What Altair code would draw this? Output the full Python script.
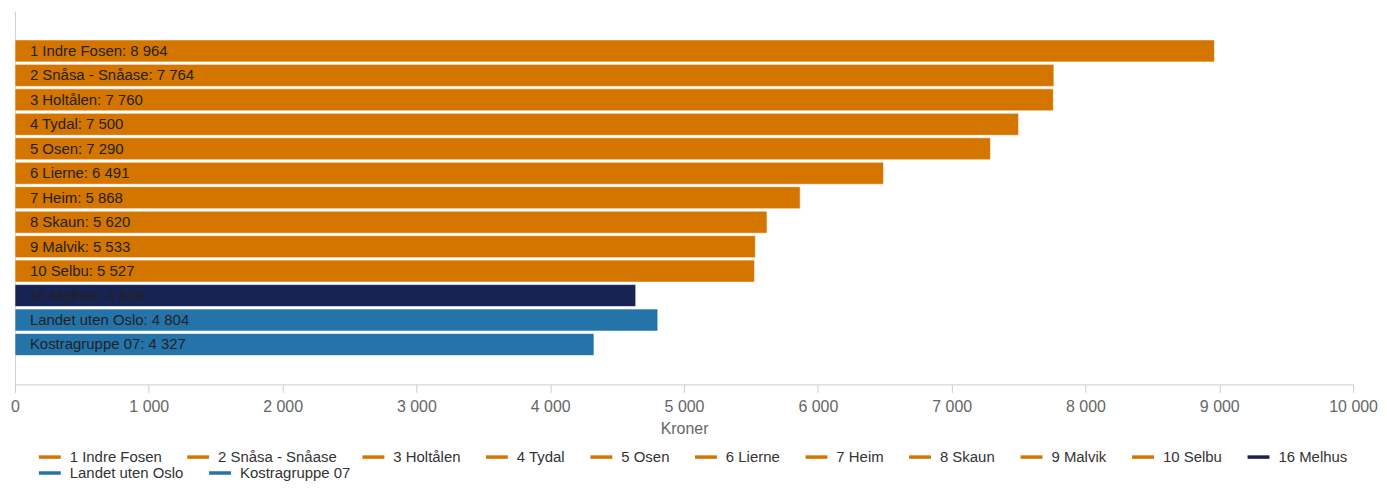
import altair as alt
import pandas as pd

names = ["1 Indre Fosen", "2 Snåsa - Snåase", "3 Holtålen", "4 Tydal", "5 Osen",
         "6 Lierne", "7 Heim", "8 Skaun", "9 Malvik", "10 Selbu", "16 Melhus",
         "Landet uten Oslo", "Kostragruppe 07"]
values = [8964, 7764, 7760, 7500, 7290, 6491, 5868, 5620, 5533, 5527, 4639, 4804, 4327]
colors = ["#d47500"] * 10 + ["#172352", "#2474a9", "#2474a9"]
x_ticks = [0, 1000, 2000, 3000, 4000, 5000, 6000, 7000, 8000, 9000, 10000]

df = pd.DataFrame({
    "name": names,
    "value": values,
    "label": [f"{n}: {v:,}".replace(",", " ") for n, v in zip(names, values)],
})
df_a = df.iloc[:11]
df_b = df.iloc[11:]

FONT = "Liberation Sans"
y_domain = ["_top"] + names + ["_bottom"]
y_scale = alt.Scale(domain=y_domain, paddingInner=0.1, paddingOuter=0.18)
x_scale = alt.Scale(domain=[0, 10000], nice=False)

x_axis = alt.Axis(values=x_ticks, title="Kroner", grid=False, labelFlush=False,
                  labelExpr="replace(format(datum.value, ','), ',', ' ')",
                  labelFont=FONT, labelFontSize=16, labelColor="#666666",
                  labelPadding=6, tickSize=8, tickColor="#cccccc",
                  domainColor="#cccccc", titleFont=FONT, titleFontSize=16,
                  titleFontWeight="normal", titleColor="#666666", titlePadding=6)
y_axis = alt.Axis(labels=False, ticks=False, title=None, domainColor="#d0d0d0",
                  domainWidth=1, grid=False)

SYMBOL = "M-1,-0.16L1,-0.16L1,0.16L-1,0.16Z"


def legend(x, y):
    return alt.Legend(orient="none", legendX=x, legendY=y, direction="horizontal",
                      title=None, symbolType=SYMBOL, symbolSize=484, symbolStrokeWidth=0,
                      labelFont=FONT, labelFontSize=15, labelColor="#333333",
                      labelOffset=9, columnPadding=25, rowPadding=0)


def bar_layer(data, lo, hi, ly):
    return alt.Chart(data).mark_bar(stroke="white", strokeWidth=1, strokeOpacity=0.6).encode(
        x=alt.X("value:Q", scale=x_scale, axis=x_axis),
        y=alt.Y("name:N", scale=y_scale, axis=y_axis),
        color=alt.Color("name:N", sort=names[lo:hi],
                        scale=alt.Scale(domain=names[lo:hi], range=colors[lo:hi]),
                        legend=legend(24, ly)),
    )


bars_a = bar_layer(df_a, 0, 11, 437)
bars_b = bar_layer(df_b, 11, 13, 453)

texts = alt.Chart(df).mark_text(align="left", baseline="middle", dx=15, font=FONT,
                                fontSize=15, color="#222222").encode(
    x=alt.datum(0, scale=x_scale),
    y=alt.Y("name:N", scale=y_scale),
    text="label:N",
)

chart = alt.layer(bars_a, bars_b, texts).resolve_scale(color="independent").properties(
    width=1344, height=375,
    autosize=alt.AutoSizeParams(type="none"),
    padding={"left": 7, "top": 2, "right": 26, "bottom": 99},
    background="white",
).configure_view(stroke=None)

chart.save("out.html", embed_options={"renderer": "svg", "actions": False})
